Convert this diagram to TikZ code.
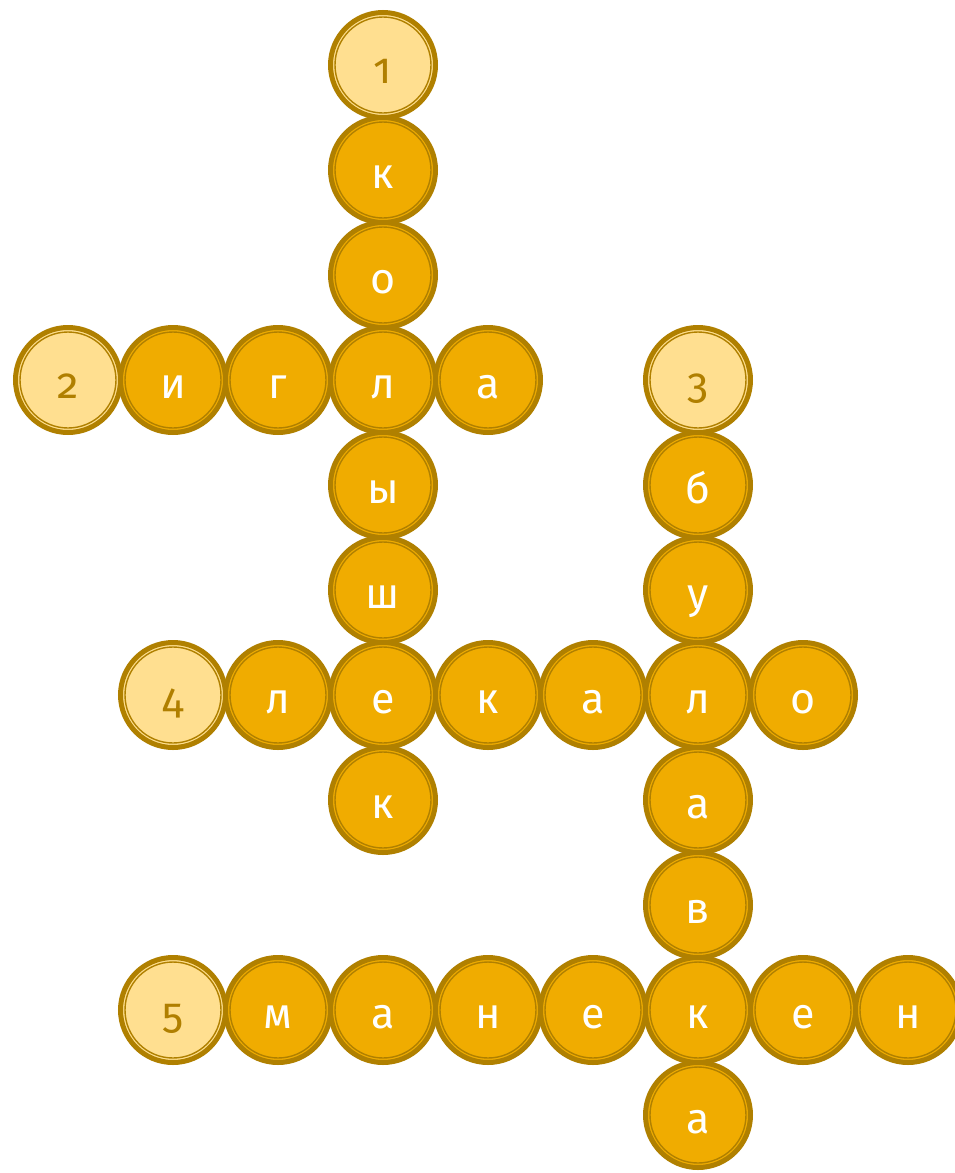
\documentclass[tikz,border=0pt]{standalone}
\usepackage{fontspec}
\setmainfont[Numbers=OldStyle]{Fira Sans}
\definecolor{ringc}{HTML}{B08000}
\definecolor{cellfill}{HTML}{F0AC00}
\definecolor{numfill}{HTML}{FFDF90}
\definecolor{numtext}{HTML}{B07F00}
\tikzset{
  cellbase/.style={circle, draw=ringc, line width=5pt, minimum size=105pt,
    inner sep=0pt, text height=37pt, text depth=0pt, font=\fontsize{43}{43}\selectfont,
    path picture={\draw[ringc, line width=1.4pt] (path picture bounding box.center) circle (48pt);}},
  lettercell/.style={cellbase, fill=cellfill, text=white},
  numcell/.style={cellbase, fill=numfill, text=numtext},
}
\begin{document}
\begin{tikzpicture}[x=1pt, y=-1pt]
\useasboundingbox (0,0) rectangle (955,1173);
\clip (0,0) rectangle (955,1173);
% word 1 (vertical, column 3)
\node[numcell]    (n1)  at (383,65)   {1};
\node[lettercell] (a1)  at (383,170)  {к};
\node[lettercell] (a2)  at (383,275)  {о};
\node[lettercell] (a3)  at (383,380)  {л};
\node[lettercell] (a4)  at (383,485)  {ы};
\node[lettercell] (a5)  at (383,590)  {ш};
\node[lettercell] (a6)  at (383,695)  {е};
\node[lettercell] (a7)  at (383,800)  {к};
% word 2 (horizontal, row 3)
\node[numcell]    (n2)  at (68,380)   {2};
\node[lettercell] (b1)  at (173,380)  {и};
\node[lettercell] (b2)  at (278,380)  {г};
\node[lettercell] (b4)  at (488,380)  {а};
% word 3 (vertical, column 6)
\node[numcell]    (n3)  at (698,380)  {3};
\node[lettercell] (c1)  at (698,485)  {б};
\node[lettercell] (c2)  at (698,590)  {у};
\node[lettercell] (c3)  at (698,695)  {л};
\node[lettercell] (c4)  at (698,800)  {а};
\node[lettercell] (c5)  at (698,905)  {в};
\node[lettercell] (c6)  at (698,1010) {к};
\node[lettercell] (c7)  at (698,1115) {а};
% word 4 (horizontal, row 6)
\node[numcell]    (n4)  at (173,695)  {4};
\node[lettercell] (d1)  at (278,695)  {л};
\node[lettercell] (d3)  at (488,695)  {к};
\node[lettercell] (d4)  at (593,695)  {а};
\node[lettercell] (d6)  at (803,695)  {о};
% word 5 (horizontal, row 9)
\node[numcell]    (n5)  at (173,1010) {5};
\node[lettercell] (e1)  at (278,1010) {м};
\node[lettercell] (e2)  at (383,1010) {а};
\node[lettercell] (e3)  at (488,1010) {н};
\node[lettercell] (e4)  at (593,1010) {е};
\node[lettercell] (e6)  at (803,1010) {е};
\node[lettercell] (e7)  at (908,1010) {н};
\end{tikzpicture}
\end{document}
